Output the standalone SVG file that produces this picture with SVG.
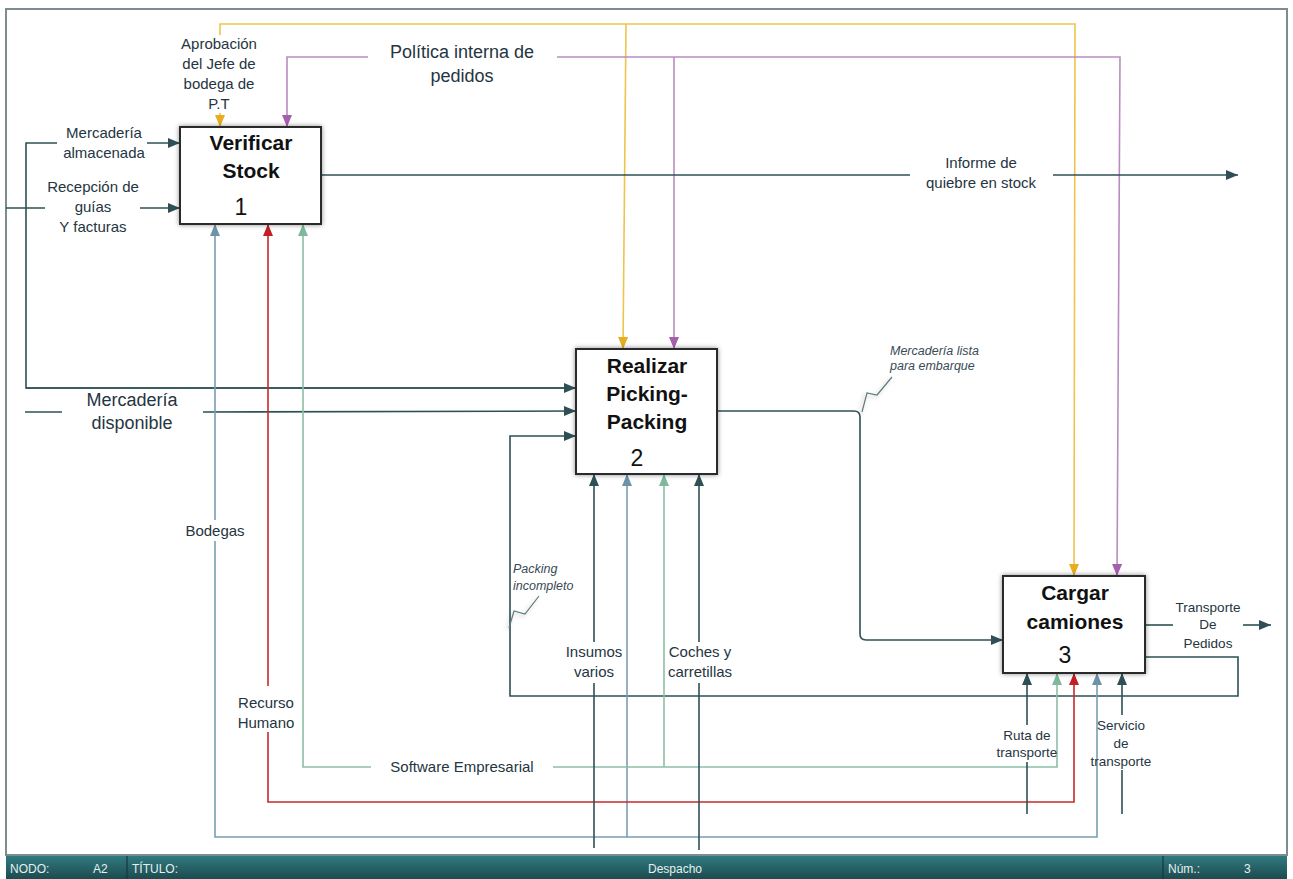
<svg xmlns="http://www.w3.org/2000/svg" width="1293" height="879" viewBox="0 0 1293 879">
  <style>
    .frame { fill: #ffffff; stroke: #7d8c8e; stroke-width: 2; }
    .box { fill: #ffffff; stroke: #2b2b2b; stroke-width: 2; }
    .title { font-family: "Liberation Sans", Arial, sans-serif; font-weight: bold; font-size: 21px; fill: #111111; text-anchor: middle; }
    .num { font-family: "Liberation Sans", Arial, sans-serif; font-size: 23px; fill: #111111; text-anchor: middle; }
    .lbl { font-family: "Liberation Sans", Arial, sans-serif; font-size: 15px; fill: #253541; text-anchor: middle; }
    .lbl-lg { font-family: "Liberation Sans", Arial, sans-serif; font-size: 18px; fill: #253541; text-anchor: middle; }
    .lbl-sm { font-family: "Liberation Sans", Arial, sans-serif; font-size: 13.5px; fill: #253541; text-anchor: middle; }
    .note { font-family: "Liberation Sans", Arial, sans-serif; font-style: italic; font-size: 12.5px; fill: #3a4a55; }
    .bar { font-family: "Liberation Sans", Arial, sans-serif; font-size: 12px; fill: #e6f0f0; }
    .ln { fill: none; stroke-width: 1.6; }
    .dark { stroke: #2e5055; }
    .blue { stroke: #7a9eb1; }
    .red { stroke: #c62a2d; }
    .green { stroke: #8dbfa6; }
    .yellow { stroke: #efc44e; }
    .purple { stroke: #b98cc0; }
    .leader { fill: none; stroke: #5d7c7a; stroke-width: 1.2; }
  </style>
  <defs>
    <filter id="shadow" x="-20%" y="-20%" width="140%" height="140%">
      <feDropShadow dx="0" dy="0" stdDeviation="2.5" flood-color="#000000" flood-opacity="0.45"/>
    </filter>
    <filter id="softshadow" x="-50%" y="-50%" width="200%" height="200%">
      <feDropShadow dx="-2" dy="2" stdDeviation="2" flood-color="#000000" flood-opacity="0.25"/>
    </filter>
    <linearGradient id="barGrad" x1="0" y1="0" x2="0" y2="1">
      <stop offset="0" stop-color="#2f7b80"/>
      <stop offset="1" stop-color="#1d4a4f"/>
    </linearGradient>
    <marker id="aDark" markerUnits="userSpaceOnUse" markerWidth="12" markerHeight="10" refX="12" refY="5" orient="auto">
      <path d="M0,0 L12,5 L0,10 z" fill="#2e5055"/>
    </marker>
    <marker id="aBlue" markerUnits="userSpaceOnUse" markerWidth="12" markerHeight="10" refX="12" refY="5" orient="auto">
      <path d="M0,0 L12,5 L0,10 z" fill="#6d93a8"/>
    </marker>
    <marker id="aRed" markerUnits="userSpaceOnUse" markerWidth="12" markerHeight="10" refX="12" refY="5" orient="auto">
      <path d="M0,0 L12,5 L0,10 z" fill="#c21f24"/>
    </marker>
    <marker id="aGreen" markerUnits="userSpaceOnUse" markerWidth="12" markerHeight="10" refX="12" refY="5" orient="auto">
      <path d="M0,0 L12,5 L0,10 z" fill="#7fb89c"/>
    </marker>
    <marker id="aYellow" markerUnits="userSpaceOnUse" markerWidth="12" markerHeight="10" refX="12" refY="5" orient="auto">
      <path d="M0,0 L12,5 L0,10 z" fill="#e6ad1f"/>
    </marker>
    <marker id="aPurple" markerUnits="userSpaceOnUse" markerWidth="12" markerHeight="10" refX="12" refY="5" orient="auto">
      <path d="M0,0 L12,5 L0,10 z" fill="#a55fae"/>
    </marker>
  </defs>

  <!-- sheet frame -->
  <rect class="frame" x="6" y="9" width="1281" height="846"/>

  <!-- connectors -->
  <g id="connectors">
    <!-- controls: yellow -->
    <path class="ln yellow" d="M220,35 L220,24 L1075,24 L1074,576" marker-end="url(#aYellow)"/>
    <path class="ln yellow" d="M220,113 L220,127" marker-end="url(#aYellow)"/>
    <path class="ln yellow" d="M626,24 L623,349" marker-end="url(#aYellow)"/>
    <!-- controls: purple -->
    <path class="ln purple" d="M368,57 L287,57 L287,127" marker-end="url(#aPurple)"/>
    <path class="ln purple" d="M557,57 L1120,57 L1117,576" marker-end="url(#aPurple)"/>
    <path class="ln purple" d="M674,57 L674,349" marker-end="url(#aPurple)"/>

    <!-- inputs to 1 and 2 -->
    <path class="ln dark" d="M576,388 L26,388 L26,143 L57,143"/>
    <path class="ln dark" d="M26,388 L576,388" marker-end="url(#aDark)"/>
    <path class="ln dark" d="M147,143 L180,143" marker-end="url(#aDark)"/>
    <path class="ln dark" d="M6,208 L45,208"/>
    <path class="ln dark" d="M140,208 L180,208" marker-end="url(#aDark)"/>
    <path class="ln dark" d="M25,412 L62,412"/>
    <path class="ln dark" d="M203,412 L576,411" marker-end="url(#aDark)"/>

    <!-- output of 1 -->
    <path class="ln dark" d="M321,175 L910,175"/>
    <path class="ln dark" d="M1053,175 L1238,175" marker-end="url(#aDark)"/>

    <!-- 2 to 3 -->
    <path class="ln dark" d="M717,411 L854,411 Q860,411 860,417 L860,634 Q860,640 866,640 L1003,640" marker-end="url(#aDark)"/>

    <!-- feedback loop from 3 back to 2 -->
    <path class="ln dark" d="M1145,657 L1238,657 L1238,696 L510,696 L510,436 L576,436" marker-end="url(#aDark)"/>

    <!-- output of 3 -->
    <path class="ln dark" d="M1145,625 L1173,625"/>
    <path class="ln dark" d="M1243,625 L1271,625" marker-end="url(#aDark)"/>

    <!-- mechanisms: Bodegas -->
    <path class="ln blue" d="M215,520 L215,224" marker-end="url(#aBlue)"/>
    <path class="ln blue" d="M215,541 L215,837 L1097,837 L1097,673" marker-end="url(#aBlue)"/>
    <path class="ln blue" d="M627,837 L627,474" marker-end="url(#aBlue)"/>

    <!-- mechanisms: Recurso Humano -->
    <path class="ln red" d="M268,686 L268,224" marker-end="url(#aRed)"/>
    <path class="ln red" d="M268,732 L268,802 L1074,802 L1074,673" marker-end="url(#aRed)"/>

    <!-- mechanisms: Software Empresarial -->
    <path class="ln green" d="M371,767 L303,767 L303,224" marker-end="url(#aGreen)"/>
    <path class="ln green" d="M553,767 L1057,767 L1057,673" marker-end="url(#aGreen)"/>
    <path class="ln green" d="M664,767 L664,474" marker-end="url(#aGreen)"/>

    <!-- mechanisms: Insumos varios / Coches y carretillas -->
    <path class="ln dark" d="M594,848 L594,683"/>
    <path class="ln dark" d="M594,642 L594,474" marker-end="url(#aDark)"/>
    <path class="ln dark" d="M699,850 L699,683"/>
    <path class="ln dark" d="M699,642 L699,474" marker-end="url(#aDark)"/>

    <!-- mechanisms of 3 -->
    <path class="ln dark" d="M1027,814 L1027,762"/>
    <path class="ln dark" d="M1027,725 L1027,673" marker-end="url(#aDark)"/>
    <path class="ln dark" d="M1122,814 L1122,770"/>
    <path class="ln dark" d="M1122,715 L1122,673" marker-end="url(#aDark)"/>

    <!-- callout leaders -->
    <path class="leader" d="M862,412 L867,393 L877,395 L892,377" filter="url(#softshadow)"/>
    <path class="leader" d="M509,628 L514,611 L525,614 L539,596" filter="url(#softshadow)"/>
  </g>

  <!-- connector labels -->
  <g id="labels">
    <text class="lbl"><tspan x="219" y="49">Aprobación</tspan><tspan x="219" y="69">del Jefe de</tspan><tspan x="219" y="89">bodega de</tspan><tspan x="219" y="109">P.T</tspan></text>
    <text class="lbl-lg"><tspan x="462" y="58">Política interna de</tspan><tspan x="462" y="82">pedidos</tspan></text>
    <text class="lbl"><tspan x="104" y="138">Mercadería</tspan><tspan x="104" y="158">almacenada</tspan></text>
    <text class="lbl"><tspan x="93" y="192">Recepción de</tspan><tspan x="93" y="212">guías</tspan><tspan x="93" y="232">Y facturas</tspan></text>
    <text class="lbl"><tspan x="981" y="168">Informe de</tspan><tspan x="981" y="188">quiebre en stock</tspan></text>
    <text class="lbl-lg"><tspan x="132" y="406">Mercadería</tspan><tspan x="132" y="429">disponible</tspan></text>
    <text class="lbl" x="215" y="536">Bodegas</text>
    <text class="lbl"><tspan x="266" y="708">Recurso</tspan><tspan x="266" y="728">Humano</tspan></text>
    <text class="lbl" x="462" y="772">Software Empresarial</text>
    <text class="lbl"><tspan x="594" y="657">Insumos</tspan><tspan x="594" y="677">varios</tspan></text>
    <text class="lbl"><tspan x="700" y="657">Coches y</tspan><tspan x="700" y="677">carretillas</tspan></text>
    <text class="lbl-sm"><tspan x="1208" y="612">Transporte</tspan><tspan x="1208" y="629">De</tspan><tspan x="1208" y="648">Pedidos</tspan></text>
    <text class="lbl-sm"><tspan x="1027" y="740">Ruta de</tspan><tspan x="1027" y="757">transporte</tspan></text>
    <text class="lbl-sm"><tspan x="1121" y="730">Servicio</tspan><tspan x="1121" y="748">de</tspan><tspan x="1121" y="766">transporte</tspan></text>
    <text class="note"><tspan x="890" y="355">Mercadería lista</tspan><tspan x="890" y="370">para embarque</tspan></text>
    <text class="note"><tspan x="513" y="573">Packing</tspan><tspan x="513" y="590">incompleto</tspan></text>
  </g>

  <!-- activity boxes -->
  <g id="node-1">
    <rect class="box" x="180" y="127" width="141" height="97" filter="url(#shadow)"/>
    <text class="title"><tspan x="251" y="150">Verificar</tspan><tspan x="251" y="178">Stock</tspan></text>
    <text class="num" x="241" y="215">1</text>
  </g>
  <g id="node-2">
    <rect class="box" x="576" y="349" width="141" height="125" filter="url(#shadow)"/>
    <text class="title"><tspan x="647" y="373">Realizar</tspan><tspan x="647" y="401">Picking-</tspan><tspan x="647" y="429">Packing</tspan></text>
    <text class="num" x="637" y="466">2</text>
  </g>
  <g id="node-3">
    <rect class="box" x="1003" y="576" width="142" height="97" filter="url(#shadow)"/>
    <text class="title"><tspan x="1075" y="600">Cargar</tspan><tspan x="1075" y="629">camiones</tspan></text>
    <text class="num" x="1065" y="663">3</text>
  </g>

  <!-- title bar -->
  <g id="title-bar">
    <rect x="6" y="856" width="1281" height="23" fill="url(#barGrad)"/>
    <line x1="127" y1="856" x2="127" y2="879" stroke="#16383b" stroke-width="1.2"/>
    <line x1="1163" y1="856" x2="1163" y2="879" stroke="#16383b" stroke-width="1.2"/>
    <text class="bar" x="10" y="873">NODO:</text>
    <text class="bar" x="93" y="873">A2</text>
    <text class="bar" x="132" y="873">TÍTULO:</text>
    <text class="bar" x="648" y="873">Despacho</text>
    <text class="bar" x="1168" y="873">Núm.:</text>
    <text class="bar" x="1244" y="873">3</text>
  </g>
</svg>
